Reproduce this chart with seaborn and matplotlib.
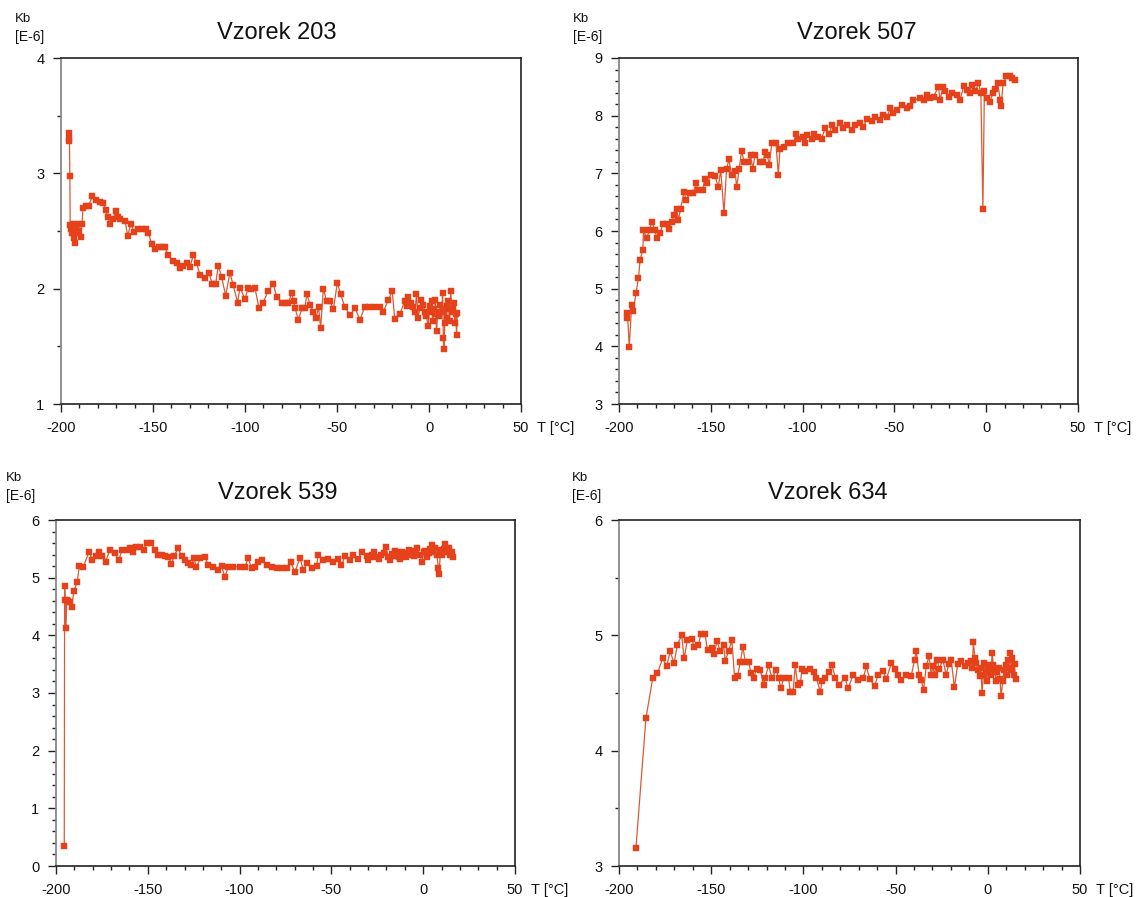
import matplotlib
matplotlib.use("Agg")
import matplotlib.pyplot as plt
import seaborn as sns
from matplotlib.ticker import MultipleLocator

# ---------------- data ----------------
titles = ["Vzorek 203", "Vzorek 507", "Vzorek 539", "Vzorek 634"]
ylims = [(1, 4), (3, 9), (0, 6), (3, 6)]
yminor = [0.5, 0.2, 0.2, 0.5]
xlim = (-200, 50)

T1 = [-195.8, -195.6, -195.4, -195.2, -195.0, -194.6, -194.2, -193.6, -193.0, -192.4,
      -191.8, -191.2, -190.6, -190.0, -189.4, -188.6, -188.0, -186.5, -185.0, -183.0,
      -181.0, -179.0, -177.0, -175.7, -174.5, -173.4, -172.0, -170.3, -169.0, -167.9,
      -165.2, -163.8, -162.0, -160.2, -158.0, -156.0, -154.0, -152.5, -150.7, -148.9,
      -147.0, -145.0, -143.6, -141.7, -139.0, -137.0, -135.3, -133.5, -131.7, -129.9,
      -128.1, -126.3, -124.5, -121.8, -119.6, -117.8, -116.0, -114.5, -112.7, -110.5,
      -108.2, -106.4, -104.0, -102.7, -100.0, -98.2, -96.5, -94.6, -92.4, -90.1,
      -87.4, -84.6, -82.8, -80.0, -78.2, -76.4, -74.6, -73.5, -72.8, -71.0,
      -69.0, -67.5, -66.4, -64.5, -62.9, -61.4, -60.0, -58.9, -57.4, -55.6,
      -53.8, -52.0, -49.8, -48.0, -45.7, -43.0, -40.2, -37.5, -35.0, -32.5,
      -30.0, -26.6, -24.8, -22.1, -20.0, -18.6, -15.9,
      -13.2, -12.2, -11.3, -10.0, -8.6, -7.6, -6.8, -5.9, -5.0, -4.1,
      -3.2, -2.3, -1.4, -0.5, 0.5, 1.0, 1.4, 2.0, 2.6, 3.0,
      3.4, 4.1, 4.8, 5.5, 6.2, 6.8, 7.4, 7.8, 8.1, 8.6,
      9.1, 9.6, 10.0, 10.5, 11.2, 11.8, 12.5, 13.2, 13.6, 14.1,
      14.5, 15.0, 15.4]
K1 = [3.28, 3.35, 3.30, 2.98, 2.55, 2.52, 2.48, 2.56, 2.44, 2.40,
      2.52, 2.48, 2.56, 2.50, 2.45, 2.56, 2.70, 2.72, 2.72, 2.80,
      2.77, 2.75, 2.74, 2.68, 2.62, 2.56, 2.60, 2.67, 2.62, 2.60,
      2.59, 2.46, 2.56, 2.49, 2.52, 2.52, 2.52, 2.48, 2.39, 2.34,
      2.36, 2.36, 2.36, 2.29, 2.24, 2.22, 2.18, 2.20, 2.22, 2.19,
      2.29, 2.22, 2.12, 2.09, 2.14, 2.04, 2.04, 2.20, 2.10, 1.94,
      2.14, 2.03, 1.88, 2.01, 1.91, 2.01, 2.00, 2.01, 1.83, 1.88,
      1.98, 2.04, 1.93, 1.88, 1.88, 1.88, 1.96, 1.89, 1.83, 1.73,
      1.83, 1.83, 1.95, 1.86, 1.80, 1.75, 1.84, 1.66, 2.00, 1.89,
      1.89, 1.82, 2.05, 1.95, 1.84, 1.77, 1.83, 1.73, 1.84, 1.84,
      1.84, 1.84, 1.80, 1.90, 1.98, 1.74, 1.78,
      1.89, 1.85, 1.93, 1.88, 1.84, 1.80, 1.95, 1.75, 1.83, 1.90,
      1.86, 1.80, 1.76, 1.68, 1.85, 1.80, 1.89, 1.72, 1.82, 1.78,
      1.90, 1.63, 1.80, 1.76, 1.86, 1.80, 1.96, 1.57, 1.48, 1.70,
      1.82, 1.75, 1.85, 1.89, 1.72, 1.98, 1.80, 1.82, 1.88, 1.70,
      1.78, 1.60, 1.79]

T2 = [-195.8, -195.4, -194.4, -193.1, -192.2, -190.7, -189.4, -188.5, -187.0, -186.7,
      -184.9, -183.4, -182.2, -180.4, -179.5, -177.7, -175.9, -174.1, -172.6, -171.3,
      -169.9, -168.6, -167.7, -166.4, -164.6, -163.5, -161.3, -159.5, -158.1, -156.8,
      -154.4, -153.2, -151.9, -150.1, -147.7, -145.9, -144.6, -142.8, -141.4, -140.1,
      -138.7, -136.8, -135.9, -134.5, -133.2, -131.9, -129.6, -128.3, -127.2, -125.9,
      -123.2, -121.4, -120.5, -119.2, -118.1, -116.8, -114.5, -113.2, -112.3, -110.1,
      -107.7, -105.0, -103.6, -102.3, -99.9, -98.6, -97.4, -95.0, -93.8, -91.4,
      -89.6, -87.8, -85.4, -84.2, -82.4, -79.6, -77.8, -75.6, -73.2, -71.4,
      -69.0, -66.9, -65.0, -62.3, -60.5, -58.1, -56.3, -54.1, -52.3, -50.5,
      -48.7, -46.0, -43.2, -41.5, -39.7, -36.0, -34.0, -32.4, -30.5, -28.7,
      -26.0, -25.1, -23.6, -22.4, -20.5, -18.7, -16.0, -14.2, -12.3, -10.5,
      -9.0, -7.8, -6.0, -4.2, -2.9, -1.8, -1.0, 0.4, 1.9, 3.7,
      5.0, 6.3, 7.7, 8.1, 9.2, 11.0, 12.8, 14.1, 15.9]
K2 = [4.49, 4.57, 3.99, 4.72, 4.62, 4.93, 5.18, 5.50, 5.67, 6.02,
      5.87, 6.02, 6.16, 6.02, 5.87, 5.96, 6.13, 6.13, 6.03, 6.16,
      6.28, 6.39, 6.19, 6.39, 6.68, 6.54, 6.66, 6.66, 6.83, 6.71,
      6.71, 6.91, 6.83, 6.97, 6.95, 6.76, 7.06, 6.31, 7.08, 7.24,
      6.97, 7.04, 6.76, 7.08, 7.39, 7.20, 7.20, 7.31, 7.08, 7.31,
      7.20, 7.20, 7.37, 7.31, 7.14, 7.53, 7.52, 6.97, 7.43, 7.46,
      7.53, 7.53, 7.68, 7.60, 7.63, 7.52, 7.66, 7.60, 7.69, 7.63,
      7.60, 7.78, 7.69, 7.84, 7.75, 7.88, 7.78, 7.84, 7.75, 7.84,
      7.87, 7.81, 7.94, 7.90, 7.97, 7.92, 8.01, 7.97, 8.13, 8.04,
      8.10, 8.18, 8.13, 8.16, 8.27, 8.30, 8.28, 8.36, 8.30, 8.33,
      8.50, 8.27, 8.50, 8.42, 8.33, 8.39, 8.36, 8.27, 8.51, 8.45,
      8.40, 8.53, 8.42, 8.56, 8.39, 6.38, 8.42, 8.30, 8.24, 8.39,
      8.47, 8.56, 8.27, 8.16, 8.56, 8.68, 8.68, 8.65, 8.61]

T3 = [-195.5, -195.3, -195.0, -194.6, -194.1, -193.4, -192.5, -191.5, -190.2, -188.4,
      -187.3, -185.1, -182.0, -180.2, -178.4, -176.6, -174.8, -173.0, -170.6, -167.9,
      -165.8, -164.0, -161.6, -159.8, -158.0, -156.2, -154.0, -152.2, -150.7, -148.0,
      -146.2, -144.3, -142.5, -140.7, -138.9, -137.1, -135.8, -133.5, -131.6, -129.8,
      -128.0, -126.2, -124.9, -123.5, -121.3, -118.9, -117.1, -114.4, -111.6, -109.8,
      -108.0, -106.2, -103.5, -99.8, -97.1, -95.3, -93.5, -91.6, -89.8, -88.0,
      -85.3, -82.6, -79.9, -77.1, -74.4, -72.2, -69.9, -67.1, -65.3, -63.1,
      -60.8, -58.1, -57.2, -54.5, -51.7, -49.0, -46.3, -44.5, -42.6, -39.9,
      -38.1, -35.4, -33.5,
      -30.8, -29.9, -29.0, -28.0, -27.0, -25.6, -24.3, -23.0, -21.6, -20.3,
      -19.1, -17.9, -17.0, -16.1, -15.2, -14.3, -13.4, -12.5, -11.6, -10.7,
      -9.3, -8.0, -6.6, -5.2, -4.3, -3.4, -2.0, -0.7, 0.2, 1.1,
      2.0, 2.9, 3.8, 4.7, 5.6, 6.5, 7.4, 8.3, 8.7, 9.4,
      10.2, 11.1, 12.0, 12.9, 13.8, 14.7, 15.6, 16.5]
K3 = [0.35, 4.85, 4.62, 4.12, 4.62, 4.60, 4.58, 4.50, 4.77, 4.93,
      5.20, 5.19, 5.45, 5.31, 5.38, 5.44, 5.37, 5.28, 5.48, 5.42,
      5.31, 5.48, 5.48, 5.51, 5.45, 5.54, 5.54, 5.48, 5.60, 5.60,
      5.48, 5.39, 5.39, 5.38, 5.36, 5.24, 5.37, 5.51, 5.37, 5.31,
      5.25, 5.22, 5.34, 5.18, 5.34, 5.36, 5.22, 5.18, 5.13, 5.20,
      5.01, 5.19, 5.19, 5.19, 5.19, 5.34, 5.17, 5.19, 5.27, 5.31,
      5.22, 5.19, 5.17, 5.17, 5.17, 5.27, 5.10, 5.34, 5.13, 5.25,
      5.17, 5.20, 5.40, 5.31, 5.33, 5.27, 5.33, 5.22, 5.37, 5.30,
      5.39, 5.33, 5.44,
      5.37, 5.30, 5.36, 5.40, 5.45, 5.35, 5.33, 5.39, 5.42, 5.53,
      5.36, 5.30, 5.41, 5.38, 5.46, 5.45, 5.35, 5.32, 5.44, 5.42,
      5.36, 5.48, 5.40, 5.38, 5.46, 5.51, 5.40, 5.27, 5.44, 5.46,
      5.36, 5.42, 5.50, 5.57, 5.45, 5.52, 5.40, 5.16, 5.06, 5.48,
      5.40, 5.50, 5.59, 5.44, 5.52, 5.40, 5.45, 5.35]

T4 = [-190.8, -185.4, -181.7, -179.2, -176.3, -174.1, -172.3, -170.1, -168.3, -166.0,
      -164.7, -162.9, -160.5, -159.3, -156.9, -155.6, -153.3, -152.0, -149.7, -148.4,
      -146.9, -145.1, -143.3, -142.4, -140.6, -138.8, -137.3, -135.7, -134.2, -132.8,
      -131.5, -129.7, -128.4, -127.0, -125.2, -123.4, -121.6, -120.7, -118.9, -117.1,
      -114.7, -113.5, -112.2, -110.7, -108.0, -107.1, -105.6, -104.4, -103.1, -101.6,
      -100.7, -98.9, -96.6, -94.4, -93.0, -90.8, -89.9, -88.1, -86.3, -84.5,
      -82.6, -80.8, -77.5, -75.7, -73.0, -70.3, -67.6, -65.8, -64.0, -61.3,
      -59.5, -56.8, -55.0, -52.3, -50.5, -48.7, -46.9, -44.2, -41.5, -39.7,
      -38.8, -37.3, -36.1, -34.8, -33.4, -31.9, -30.7, -29.8, -28.9, -27.6,
      -26.2, -24.4, -22.6, -21.1, -19.9, -18.1, -16.3, -14.4, -12.6, -10.8,
      -9.0, -8.4, -7.8, -7.0, -6.3, -5.4, -4.5, -3.8, -3.1, -2.4,
      -1.8, -1.1, -0.5, 0.2, 0.9, 1.6, 2.4, 3.0, 3.6, 4.5,
      5.2, 6.0, 6.6, 7.2, 8.1, 8.8, 9.6, 10.2, 10.9, 11.5,
      12.1, 12.7, 13.2, 14.0, 14.5, 15.1]
K4 = [3.16, 4.28, 4.63, 4.67, 4.80, 4.73, 4.86, 4.76, 4.92, 5.00,
      4.80, 4.96, 4.97, 4.90, 4.92, 5.01, 5.01, 4.87, 4.89, 4.84,
      4.95, 4.86, 4.92, 4.78, 4.86, 4.96, 4.63, 4.65, 4.77, 4.90,
      4.77, 4.77, 4.67, 4.63, 4.71, 4.70, 4.57, 4.63, 4.74, 4.63,
      4.70, 4.63, 4.54, 4.63, 4.63, 4.51, 4.51, 4.74, 4.57, 4.59,
      4.71, 4.69, 4.71, 4.68, 4.63, 4.51, 4.60, 4.63, 4.68, 4.74,
      4.63, 4.57, 4.63, 4.54, 4.66, 4.61, 4.63, 4.73, 4.62, 4.56,
      4.66, 4.69, 4.62, 4.76, 4.71, 4.66, 4.61, 4.66, 4.65, 4.79,
      4.86, 4.66, 4.61, 4.53, 4.73, 4.82, 4.66, 4.73, 4.66, 4.79,
      4.71, 4.79, 4.66, 4.75, 4.79, 4.55, 4.75, 4.78, 4.73, 4.76,
      4.78, 4.72, 4.94, 4.80, 4.76, 4.70, 4.65, 4.72, 4.50, 4.66,
      4.76, 4.68, 4.60, 4.74, 4.70, 4.66, 4.85, 4.74, 4.70, 4.60,
      4.68, 4.72, 4.62, 4.47, 4.60, 4.70, 4.74, 4.66, 4.79, 4.72,
      4.85, 4.70, 4.80, 4.66, 4.75, 4.62]

series = [(T1, K1), (T2, K2), (T3, K3), (T4, K4)]

# ---------------- style ----------------
sns.set_style("white")
plt.rcParams['font.family'] = ['Liberation Sans', 'DejaVu Sans']
plt.rcParams['axes.unicode_minus'] = False
plt.rcParams['text.color'] = '#111111'
plt.rcParams['xtick.color'] = '#111111'
plt.rcParams['ytick.color'] = '#111111'

W, H = 1143, 897
fig = plt.figure(figsize=(W / 100, H / 100), dpi=100)

# axes boxes in pixels: left, top, right, bottom
boxes = [(61, 58, 521, 404), (619, 58, 1078, 404),
         (56, 520, 515, 866), (619, 520, 1080, 866)]
title_pos = [(277, 33), (857, 33), (278, 493), (828, 493)]
kb_pos = [(15, 19), (573, 19), (6, 478), (572, 478)]

marker_col = '#E5421B'
line_col = '#DA5A33'

for i, ((l, t, r, b), (T, K)) in enumerate(zip(boxes, series)):
    ax = fig.add_axes([l / W, 1 - b / H, (r - l) / W, (b - t) / H])
    n = min(len(T), len(K))
    sns.lineplot(x=T[:n], y=K[:n], ax=ax, sort=False, estimator=None,
                 color=line_col, linewidth=0.9, marker='s', markersize=4.6,
                 markerfacecolor=marker_col, markeredgecolor=marker_col,
                 markeredgewidth=0.3)
    ax.set_xlim(*xlim)
    ax.set_ylim(*ylims[i])
    ax.xaxis.set_major_locator(MultipleLocator(50))
    ax.xaxis.set_minor_locator(MultipleLocator(10))
    ax.yaxis.set_major_locator(MultipleLocator(1))
    ax.yaxis.set_minor_locator(MultipleLocator(yminor[i]))
    ax.tick_params(axis='both', which='major', direction='out', length=6,
                   width=1.0, color='#222222', labelcolor='#111111',
                   labelsize=10.5, pad=6,
                   bottom=True, left=True, top=False, right=False)
    ax.tick_params(axis='both', which='minor', direction='out', length=3,
                   width=1.0, color='#222222',
                   bottom=True, left=True, top=False, right=False)
    for side in ['top', 'right', 'bottom']:
        ax.spines[side].set_color('#222222')
        ax.spines[side].set_linewidth(1.2)
    ax.spines['left'].set_color('#888888')
    ax.spines['left'].set_linewidth(1.3)
    ax.set_xlabel('')
    ax.set_ylabel('')
    ax.set_facecolor('white')

    tx, ty = title_pos[i]
    fig.text(tx / W, 1 - ty / H, titles[i], ha='center', va='center', fontsize=17)
    kx, ky = kb_pos[i]
    fig.text(kx / W, 1 - ky / H, 'Kb', ha='left', va='center', fontsize=9.5)
    fig.text(kx / W, 1 - (ky + 18) / H, '[E-6]', ha='left', va='center', fontsize=10)
    fig.text((r + 16) / W, 1 - (b + 24) / H, 'T [°C]', ha='left', va='center', fontsize=10.5)

fig.savefig('out.png', dpi=100, facecolor='white')
